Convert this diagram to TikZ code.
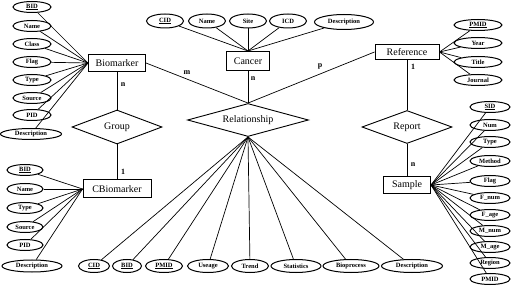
\documentclass[tikz,border=0pt]{standalone}
\usepackage{fontspec}
\setmainfont{Liberation Serif}
\usetikzlibrary{shapes.geometric,positioning}

\begin{document}
\begin{tikzpicture}[x=1pt, y=-1pt, line width=0.7pt,
  ent/.style={draw, line width=1pt, inner xsep=3pt, font=\fontsize{10}{12}\selectfont},
  rel/.style={draw, diamond, inner sep=0pt, line width=0.9pt, font=\fontsize{10}{12}\selectfont},
  att/.style={draw, ellipse, line width=1pt, inner xsep=3pt, inner ysep=0pt, minimum height=11pt, minimum width=38pt, font=\bfseries\fontsize{6.5}{7}\selectfont},
  card/.style={font=\bfseries\fontsize{8}{9}\selectfont}]
\useasboundingbox (0,0) rectangle (520,286);

% entities
\node[ent, minimum width=57pt, minimum height=17pt] (bio) at (117,63) {Biomarker};
\node[ent, minimum width=68pt, minimum height=18pt] (cbio) at (117,189) {CBiomarker};
\node[ent, minimum width=43pt, minimum height=19pt] (can) at (248,61) {Cancer};
\node[ent, minimum width=64pt, minimum height=15pt] (ref) at (407,52) {Reference};
\node[ent, minimum width=47pt, minimum height=17pt] (samp) at (407,185) {Sample};

% relationships
\node[rel, aspect=2.65, minimum width=90pt, minimum height=34pt] (grp) at (117,127) {Group};
\node[rel, aspect=3.6, minimum width=121pt, minimum height=33pt] (relship) at (248,120) {Relationship};
\node[rel, aspect=2.7, minimum width=90pt, minimum height=33pt] (rep) at (407,127) {Report};

\draw (bio.east) -- (relship.north);
\draw (can.south) -- (relship.north);
\draw (ref.west) -- (relship.north);
\draw (bio.south) -- (grp.north);
\draw (grp.south) -- (cbio.north);
\draw (ref.south) -- (rep.north);
\draw (rep.south) -- (samp.north);

% cardinalities
\node[card] (lm) at (187,73) {m};
\node[card] (lcan) at (253,79) {n};
\node[card] (lp) at (320,66) {p};
\node[card] (lbio) at (123,85) {n};
\node[card] (lcbio) at (123,172) {1};
\node[card] (lref) at (413,67) {1};
\node[card] (lsamp) at (413,165) {n};

% biomarker attributes
\foreach \t/\y [count=\i] in {\underline{BID}/7, Name/26, Class/44, Flag/62, Type/80, Source/98, PID/115}
  \node[att] (ba\i) at (32,\y) {\t};
\node[att, minimum width=61pt] (ba8) at (31,134) {Description};
\foreach \i in {1,...,8} \draw (ba\i) -- (bio.west);

% cbiomarker attributes
\foreach \t/\y [count=\i] in {\underline{BID}/170, Name/189, Type/208, Source/227, PID/245}
  \node[att, minimum width=36pt] (ca\i) at (25,\y) {\t};
\node[att, minimum width=60pt, minimum height=12pt] (ca6) at (32,266) {Description};
\foreach \i in {1,...,6} \draw (ca\i) -- (cbio.west);

% cancer attributes
\foreach \t/\x [count=\i] in {\underline{CID}/165, Name/207, Site/248, ICD/288}
  \node[att, minimum width=37pt, minimum height=14pt] (cn\i) at (\x,21) {\t};
\node[att, minimum width=59pt, minimum height=15pt] (cn5) at (344,22) {Description};
\foreach \i in {1,...,5} \draw (cn\i) -- (can.north);

% reference attributes
\foreach \t/\y [count=\i] in {\underline{PMID}/25, Year/43, Title/62, Journal/80}
  \node[att, minimum width=48pt] (ra\i) at (478,\y) {\t};
\foreach \i in {1,...,4} \draw (ref.east) -- (ra\i);

% sample attributes
\foreach \t/\y [count=\i] in {\underline{SID}/107, Num/125, Type/142, Method/161, Flag/181, F\_num/198, F\_age/215, M\_num/231, M\_age/247, Region/263, PMID/279}
  \node[att, minimum width=40pt] (sa\i) at (490,\y) {\t};
\foreach \i in {1,...,11} \draw (samp.east) -- (sa\i);

% relationship attributes
\foreach \t/\x/\w [count=\i] in {\underline{CID}/94/31pt, \underline{BID}/127/29pt, \underline{PMID}/164/37pt, Useage/208/41pt, Trend/250/37pt, Statistics/296/50pt, Bioprocess/351/56pt, Description/412/61pt}
  \node[att, minimum width=\w, minimum height=13pt] (la\i) at (\x,266) {\t};
\foreach \i in {1,...,8} \draw (relship.south) -- (la\i);
\end{tikzpicture}
\end{document}
